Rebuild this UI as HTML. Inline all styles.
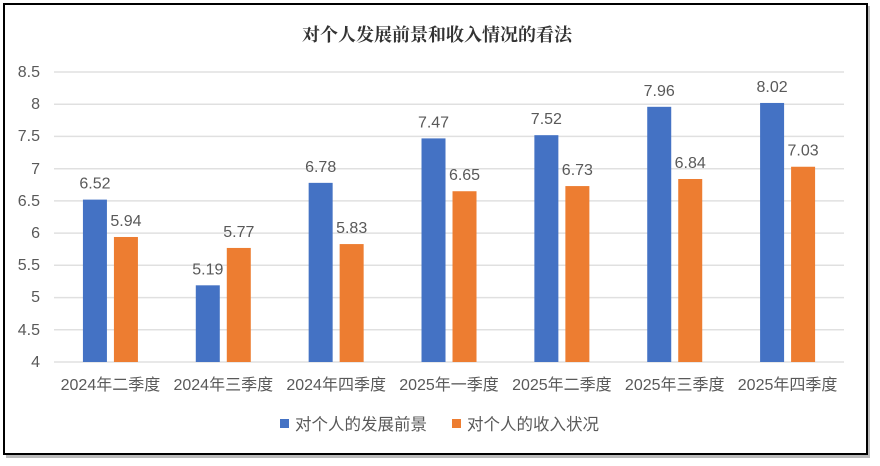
<!DOCTYPE html>
<html><head><meta charset="utf-8"><style>
body{margin:0;background:#fff}
svg{display:block;font-family:"Liberation Sans","Noto Sans CJK SC",sans-serif}
</style></head><body>
<svg width="880" height="466" viewBox="0 0 880 466">
<rect x="6" y="6" width="864" height="452" fill="#bbb"/>
<rect x="4" y="4" width="863" height="450" fill="#fff" stroke="#000" stroke-width="2"/>
<text x="437" y="41" text-anchor="middle" font-family="'Noto Serif CJK SC',serif" font-weight="bold" font-size="18" fill="#333">对个人发展前景和收入情况的看法</text>
<g stroke="#e0e0e0" stroke-width="1.5">
<line x1="54" x2="844" y1="72" y2="72"/><line x1="54" x2="844" y1="104.2" y2="104.2"/>
<line x1="54" x2="844" y1="136.4" y2="136.4"/><line x1="54" x2="844" y1="168.7" y2="168.7"/>
<line x1="54" x2="844" y1="200.9" y2="200.9"/><line x1="54" x2="844" y1="233.1" y2="233.1"/>
<line x1="54" x2="844" y1="265.3" y2="265.3"/><line x1="54" x2="844" y1="297.6" y2="297.6"/>
<line x1="54" x2="844" y1="329.8" y2="329.8"/><line x1="54" x2="844" y1="362" y2="362"/>
</g>
<g font-size="16" fill="#595959" text-anchor="end">
<text x="40" y="77">8.5</text><text x="40" y="109">8</text><text x="40" y="141">7.5</text>
<text x="40" y="174">7</text><text x="40" y="206">6.5</text><text x="40" y="238">6</text>
<text x="40" y="270">5.5</text><text x="40" y="302">5</text><text x="40" y="335">4.5</text>
<text x="40" y="367">4</text>
</g>
<g id="bars"></g>
<g font-size="16" fill="#595959" text-anchor="middle" id="labels"></g>
<rect x="280" y="419" width="9" height="9" fill="#4472c4"/>
<text x="295" y="430" font-size="16.5" fill="#595959">对个人的发展前景</text>
<rect x="452" y="419" width="9" height="9" fill="#ed7d31"/>
<text x="467" y="430" font-size="16.5" fill="#595959">对个人的收入状况</text>
<script>
var cats=["2024年二季度","2024年三季度","2024年四季度","2025年一季度","2025年二季度","2025年三季度","2025年四季度"];
var a=[6.52,5.19,6.78,7.47,7.52,7.96,8.02],b=[5.94,5.77,5.83,6.65,6.73,6.84,7.03];
var ns="http://www.w3.org/2000/svg",g=document.getElementById("bars"),L=document.getElementById("labels");
function y(v){return 362-(v-4)*64.44;}
function el(p,t,at,tx){var e=document.createElementNS(ns,t);for(var k in at)e.setAttribute(k,at[k]);if(tx)e.textContent=tx;p.appendChild(e);}
for(var i=0;i<7;i++){var c=54+112.86*(i+0.5);
el(g,"rect",{x:c-27.5,y:y(a[i]),width:24,height:362-y(a[i]),fill:"#4472c4"});
el(g,"rect",{x:c+3.5,y:y(b[i]),width:24,height:362-y(b[i]),fill:"#ed7d31"});
el(L,"text",{x:c-15.5,y:y(a[i])-11},a[i].toFixed(2));
el(L,"text",{x:c+15.5,y:y(b[i])-11},b[i].toFixed(2));
el(L,"text",{x:c,y:390},cats[i]);}
</script>
</svg>
</body></html>
